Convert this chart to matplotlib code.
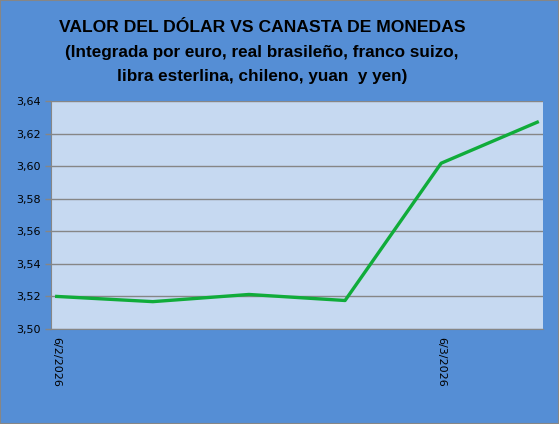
import matplotlib
matplotlib.use("Agg")
import matplotlib.pyplot as plt
import pandas as pd

fechas = pd.to_datetime(["2026-02-06", "2026-02-13", "2026-02-20",
                         "2026-02-27", "2026-03-06", "2026-03-13"])
valores = [3.520, 3.5168, 3.5212, 3.5175, 3.6018, 3.6270]
etiquetas_x = ["6/2/2026", "6/3/2026"]
fechas_etiq = pd.to_datetime(["2026-02-06", "2026-03-06"])
yticks = [3.50, 3.52, 3.54, 3.56, 3.58, 3.60, 3.62, 3.64]

fig = plt.figure(figsize=(5.59, 4.24), dpi=100)
fig.patch.set_facecolor("#558ED5")
ax = fig.add_axes([51 / 559, 1 - 329 / 424, 492 / 559, 228 / 424])
ax.set_facecolor("#C6D9F1")

ax.plot(fechas, valores, color="#10AC3A", lw=2.4, solid_joinstyle="round")

ax.set_ylim(3.50, 3.64)
ax.set_yticks(yticks)
ax.set_yticklabels([f"{v:.2f}".replace(".", ",") for v in yticks], fontsize=8)
ax.yaxis.grid(True, color="#868686", lw=1)
ax.set_axisbelow(True)

half = pd.Timedelta(hours=10)
ax.set_xlim(fechas[0] - half, fechas[-1] + half)
ax.set_xticks(fechas_etiq)
ax.set_xticklabels(etiquetas_x, rotation=-90, fontsize=8, va="top", ha="center")

for s in ["top", "right"]:
    ax.spines[s].set_visible(False)
for s in ["left", "bottom"]:
    ax.spines[s].set_color("#868686")
ax.tick_params(colors="#868686", labelcolor="black", length=4, width=1)
ax.tick_params(axis="x", length=0, pad=6)

tfont = dict(family="Liberation Sans", fontweight="bold", ha="center", va="center")
fig.text(262 / 559, 1 - 27 / 424, "VALOR DEL DÓLAR VS CANASTA DE MONEDAS",
         fontsize=12.6, **tfont)
fig.text(262 / 559, 1 - 53 / 424, "(Integrada por euro, real brasileño, franco suizo,",
         fontsize=12.3, **tfont)
fig.text(262 / 559, 1 - 76 / 424, "libra esterlina, chileno, yuan  y yen)",
         fontsize=12.3, **tfont)

fig.add_artist(plt.Rectangle((0, 0), 1, 1, transform=fig.transFigure,
                             fill=False, edgecolor="#868686", lw=1.5))

fig.savefig("out.png", dpi=100, facecolor=fig.get_facecolor())
